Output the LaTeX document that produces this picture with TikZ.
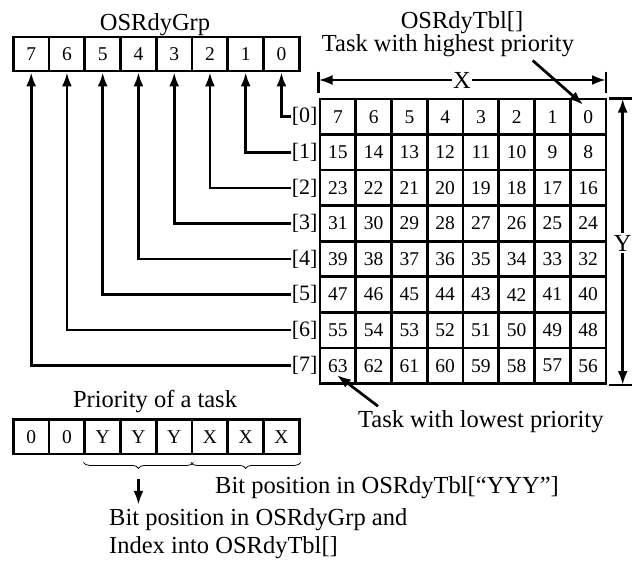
\documentclass[tikz,border=0pt]{standalone}
\usepackage{fontspec}
\setmainfont{Liberation Serif}
\usetikzlibrary{arrows.meta, calc, decorations.pathreplacing}

\tikzset{
    cell/.style={draw, line width=2.7pt, minimum width=35.75pt, minimum height=35.55pt,
        inner sep=0pt, font=\fontsize{19.5}{19.5}\selectfont},
    lbl/.style={inner sep=1pt, font=\fontsize{22}{22}\selectfont},
    txt/.style={inner sep=0pt, font=\fontsize{24.5}{28}\selectfont},
    arr/.style={line width=2.7pt, -{Latex[length=14pt, width=10pt]}},
    bar/.style={line width=2.7pt},
}

\begin{document}
\begin{tikzpicture}[x=1pt, y=-1pt]
    \useasboundingbox (0,0) rectangle (637,563);

    \node[txt, anchor=base] (grplab) at (155,30) {OSRdyGrp};
    \node[txt, anchor=base] (tbllab) at (462,28.5) {OSRdyTbl[]};
    \node[txt, anchor=base west] (hi) at (321.7,51) {Task with highest priority};

    % OSRdyGrp, bit 7 on the left
    \foreach \b in {0,...,7}
        \node[cell, minimum height=34pt] (grp\b) at ({31.2+35.75*(7-\b)}, 54) {\b};

    % OSRdyTbl[]
    \foreach \r in {0,...,7} {
        \foreach \c in {0,...,7} {
            \pgfmathtruncatemacro{\v}{8*\r+7-\c}
            \node[cell] (tbl-\r-\c) at (337.9+35.75*\c, 116.8+35.55*\r) {\v};
        }
        \node[lbl, anchor=east] (row\r) at (tbl-\r-0.west) {[\r]};
        \draw[arr] (row\r.west) -| (grp\r.south);
    }

    % X
    \coordinate (xl) at (318.5,80);
    \coordinate (xr) at (606,80);
    \draw[bar] (318.5,71.5) -- (318.5,93);
    \draw[bar] (606,71.5) -- (606,93);
    \node[txt, fill=white, inner sep=1pt] (xlab) at (462,80) {X};
    \draw[arr] (xlab) -- (xl);
    \draw[arr] (xlab) -- (xr);

    % Y
    \coordinate (yt) at (622.7,98.5);
    \coordinate (yb) at (622.7,385);
    \draw[bar] (609,98.5) -- (632,98.5);
    \draw[bar] (609,385) -- (632,385);
    \node[txt, fill=white, inner sep=2pt] (ylab) at (622.7,243) {Y};
    \draw[arr] (ylab) -- (yt);
    \draw[arr] (ylab) -- (yb);

    \draw[arr] ($(hi.south west) + (211,4)$) -- ($(tbl-0-7.center) + (-5,-12)$);

    \node[txt, anchor=base west] (lo) at (358,427) {Task with lowest priority};
    \draw[arr] ($(lo.north west) + (20,-3.6)$) -- ($(tbl-7-0.center) + (-1,9.4)$);

    % priority of a task
    \node[txt, anchor=base] (prilab) at (155,407) {Priority of a task};
    \foreach \t [count=\i from 0] in {0,0,Y,Y,Y,X,X,X}
        \node[cell, minimum height=34.7pt] (pri\i) at (31.2+35.75*\i, 436.7) {\t};

    \draw[decorate, decoration={brace, mirror, amplitude=6pt}, line width=0.8pt]
        ([yshift=-7pt]pri2.south west) -- ([yshift=-7pt]pri4.south east);
    \draw[decorate, decoration={brace, mirror, amplitude=6pt}, line width=0.8pt]
        ([yshift=-7pt]pri5.south west) -- ([yshift=-7pt]pri7.south east);

    \node[txt, anchor=base west] (bittbl) at (215,493) {Bit position in OSRdyTbl[“YYY”]};
    \node[txt, anchor=base west] (bitgrp) at (109,525) {Bit position in OSRdyGrp and};
    \node[txt, anchor=base west] (bitidx) at (109,553) {Index into OSRdyTbl[]};

    \draw[arr, shorten >=3pt] ([yshift=-24pt]pri3.south) -- (pri3.south |- bitgrp.north);
\end{tikzpicture}
\end{document}
